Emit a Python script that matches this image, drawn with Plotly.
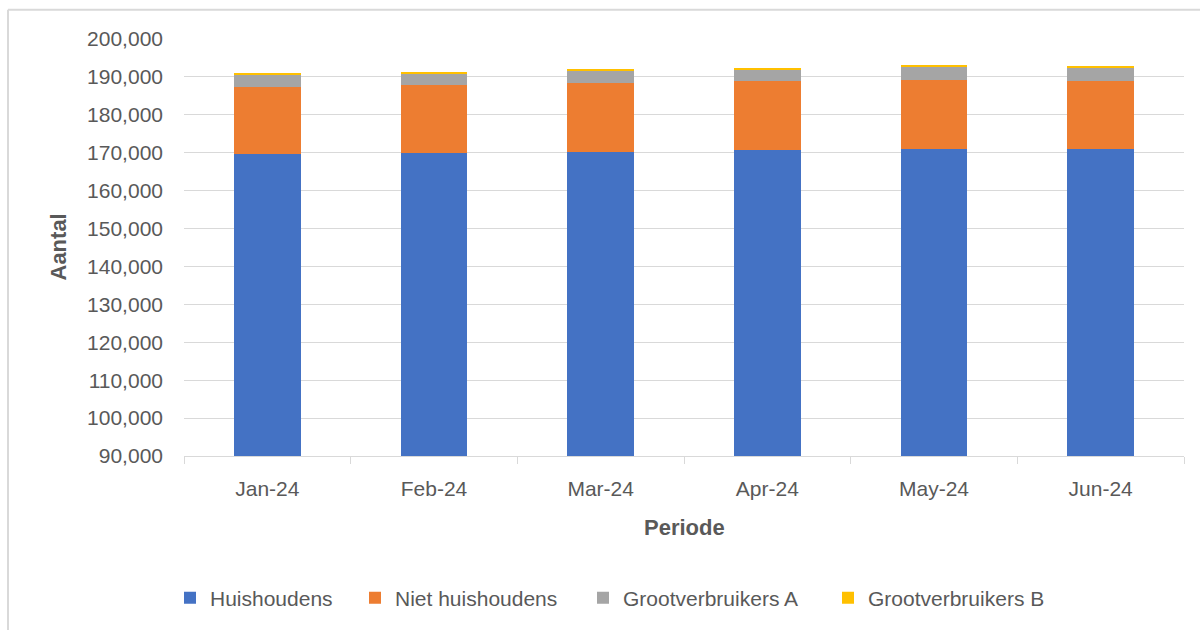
import plotly.graph_objects as go

periods = ["Jan-24", "Feb-24", "Mar-24", "Apr-24", "May-24", "Jun-24"]
huishoudens = [169650, 170000, 170260, 170620, 171060, 171060]
niet_huishoudens = [17750, 17840, 18200, 18280, 18100, 17840]
grootverbruikers_a = [3200, 3130, 3300, 3130, 3660, 3480]
grootverbruikers_b = [300, 350, 350, 350, 350, 350]

series = [
    ("Huishoudens", huishoudens, "#4472C4"),
    ("Niet huishoudens", niet_huishoudens, "#ED7D31"),
    ("Grootverbruikers A", grootverbruikers_a, "#A5A5A5"),
    ("Grootverbruikers B", grootverbruikers_b, "#FFC000"),
]
# left edge (px) of each legend entry's swatch area
legend_x = [170, 355, 583, 828]

FONT = "Liberation Sans"
TXT = "#595959"

# plot area in pixels
L, R, T, B = 184, 1184, 39, 459
W, H = R - L, B - T


def px_x(x):
    return (x - L) / W


def px_y(y):
    return (B - y) / H


fig = go.Figure()
legend_layout = {}
for i, (name, vals, col) in enumerate(series):
    key = "legend" if i == 0 else f"legend{i + 1}"
    fig.add_trace(go.Bar(x=periods, y=vals, name=name, legend=key,
                         marker=dict(color=col, line=dict(width=0))))
    legend_layout[key] = dict(
        orientation="h",
        x=px_x(legend_x[i]), y=px_y(602),
        xanchor="left", yanchor="middle",
        font=dict(family=FONT, size=21, color=TXT),
        itemwidth=30,
        bgcolor="rgba(0,0,0,0)",
    )

fig.update_layout(
    barmode="stack",
    bargap=0.6,
    width=1200,
    height=630,
    margin=dict(l=L, r=1200 - R, t=T, b=630 - B),
    paper_bgcolor="white",
    plot_bgcolor="white",
    font=dict(family=FONT, size=21, color=TXT),
    showlegend=True,
    xaxis=dict(
        type="category",
        showline=True, linecolor="#D9D9D9", linewidth=1,
        ticks="outside", tickson="boundaries", ticklen=7, tickcolor="#D9D9D9",
        showgrid=False,
        tickfont=dict(family=FONT, size=21, color=TXT),
        ticklabelstandoff=14,
    ),
    yaxis=dict(
        range=[90000, 200000],
        dtick=10000,
        tickformat=",",
        showgrid=True, gridcolor="#D9D9D9", gridwidth=1,
        zeroline=False, showline=False,
        tickfont=dict(family=FONT, size=21, color=TXT),
        ticklabelstandoff=20,
    ),
    hovermode=False,
    annotations=[
        dict(text="<b>Aantal</b>", xref="paper", yref="paper", x=px_x(58), y=px_y(249),
             xanchor="center", yanchor="middle", textangle=-90, showarrow=False,
             font=dict(family=FONT, size=22, color=TXT)),
        dict(text="<b>Periode</b>", xref="paper", yref="paper", x=px_x(684), y=px_y(531),
             xanchor="center", yanchor="middle", showarrow=False,
             font=dict(family=FONT, size=22, color=TXT)),
    ],
    shapes=[
        dict(type="line", xref="paper", yref="paper", x0=px_x(8), x1=px_x(1210),
             y0=px_y(9.5), y1=px_y(9.5), line=dict(color="#D9D9D9", width=2)),
        dict(type="line", xref="paper", yref="paper", x0=px_x(8), x1=px_x(8),
             y0=px_y(640), y1=px_y(9.5), line=dict(color="#D9D9D9", width=2)),
    ],
)
fig.update_layout(**legend_layout)

fig.write_html("out.html", config={"displayModeBar": False},
               post_script="document.body.style.margin='0';document.body.style.overflow='hidden';")
